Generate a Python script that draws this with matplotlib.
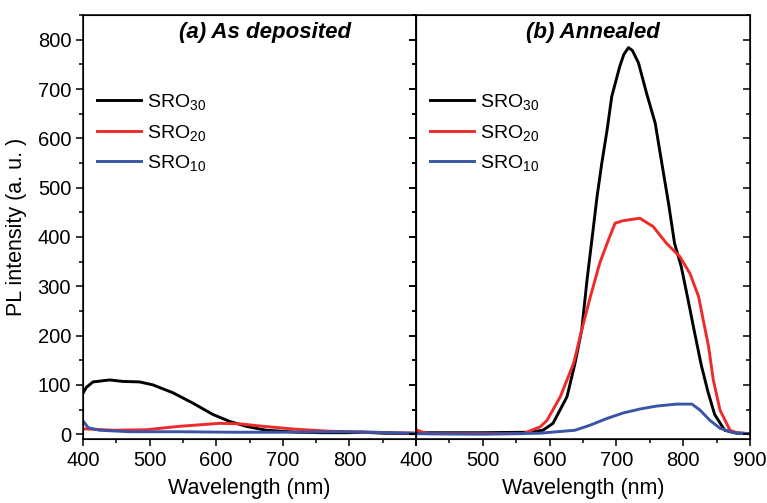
import matplotlib
matplotlib.use('Agg')
import matplotlib.pyplot as plt
from matplotlib.ticker import MultipleLocator

plt.rcParams['font.family'] = ['Liberation Sans', 'DejaVu Sans']
plt.rcParams['mathtext.default'] = 'regular'

# (a) as deposited -- wavelength (nm) / PL intensity (a.u.)
a30_wl = [400, 405, 415, 440, 460, 485, 505, 535, 565, 595, 620, 645, 675, 720, 760, 800, 820, 850, 900]
a30_pl = [83, 95, 106, 110, 107, 106, 100, 84, 63, 40, 26, 16, 8, 4, 3, 3, 4, 2, 1]

a20_wl = [400, 445, 495, 545, 605, 635, 670, 720, 770, 830, 900]
a20_pl = [11, 8, 9, 16, 22, 21, 16, 10, 6, 4, 2]

a10_wl = [400, 408, 425, 470, 545, 620, 695, 795, 900]
a10_pl = [27, 13, 8, 5, 5, 4, 4, 5, 2]

# (b) annealed
b30_wl = [400, 410, 500, 570, 590, 605, 626, 638, 648, 656, 665, 671, 678, 686, 693, 705,
          711, 718, 724, 733, 745, 758, 768, 778, 787, 797, 807, 817, 827, 837, 847, 862, 880, 900]
b30_pl = [6, 3, 3, 4, 8, 22, 76, 144, 211, 313, 414, 482, 549, 617, 685, 746,
          770, 784, 778, 753, 692, 631, 549, 468, 387, 340, 274, 206, 140, 86, 40, 8, 2, 1]

b20_wl = [400, 410, 420, 500, 560, 586, 596, 616, 636, 648, 661, 675, 688, 698, 710, 735,
          755, 775, 795, 810, 823, 830, 838, 845, 855, 870, 880, 900]
b20_pl = [9, 4, 1, 1, 1, 15, 28, 76, 144, 211, 279, 347, 394, 428, 433, 438,
          421, 387, 360, 326, 279, 231, 177, 110, 49, 8, 3, 1]

b10_wl = [400, 500, 585, 638, 660, 686, 710, 735, 760, 790, 813, 825, 840, 855, 875, 900]
b10_pl = [1, 0, 2, 8, 18, 32, 43, 51, 57, 61, 61, 49, 28, 12, 3, 1]

labels = [r'SRO$_{30}$', r'SRO$_{20}$', r'SRO$_{10}$']
colors = ['black', '#ee2a2a', '#3a54a6']

fig = plt.figure(figsize=(7.67, 5.03), dpi=100)
ax_a = fig.add_axes([0.1082, 0.127, 0.4342, 0.843])
ax_b = fig.add_axes([0.5424, 0.127, 0.4355, 0.843])

panels = [
    (ax_a, [(a30_wl, a30_pl), (a20_wl, a20_pl), (a10_wl, a10_pl)], '(a) As deposited', 0.547),
    (ax_b, [(b30_wl, b30_pl), (b20_wl, b20_pl), (b10_wl, b10_pl)], '(b) Annealed', 0.53),
]

for ax, series, title, tx in panels:
    for (wl, pl), lab, col in zip(series, labels, colors):
        ax.plot(wl, pl, color=col, linewidth=2.1, label=lab)
    ax.set_xlim(400, 900)
    ax.set_ylim(-10, 850)
    ax.xaxis.set_major_locator(MultipleLocator(100))
    ax.xaxis.set_minor_locator(MultipleLocator(50))
    ax.yaxis.set_major_locator(MultipleLocator(100))
    ax.yaxis.set_minor_locator(MultipleLocator(50))
    ax.tick_params(which='both', direction='out', top=False, right=False, labelsize=14.5, width=1.1)
    ax.tick_params(which='major', length=5)
    ax.tick_params(which='minor', length=3)
    for sp in ax.spines.values():
        sp.set_linewidth(1.1)
    # inward ticks on the right spine
    tw = ax.twinx()
    tw.set_ylim(ax.get_ylim())
    tw.yaxis.set_major_locator(MultipleLocator(100))
    tw.yaxis.set_minor_locator(MultipleLocator(50))
    tw.tick_params(which='both', direction='in', labelright=False, width=1.1)
    tw.tick_params(which='major', length=5)
    tw.tick_params(which='minor', length=3)
    ax.set_xlabel('Wavelength (nm)', fontsize=15.5, labelpad=6)
    ax.text(tx, 0.983, title, transform=ax.transAxes, ha='center', va='top',
            fontsize=16, fontweight='bold', fontstyle='italic')
    ax.legend(loc='upper left', bbox_to_anchor=(0.0, 0.85), frameon=False, fontsize=14,
              handlelength=2.3, handletextpad=0.3, labelspacing=0.53, borderaxespad=0.3)

ax_a.set_xticks([400, 500, 600, 700, 800, 900])
ax_a.set_xticklabels(['400', '500', '600', '700', '800', ''])
ax_b.tick_params(labelleft=False)
ax_a.set_ylabel('PL intensity (a. u. )', fontsize=15.5, labelpad=8)

fig.savefig('out.png', dpi=100)
